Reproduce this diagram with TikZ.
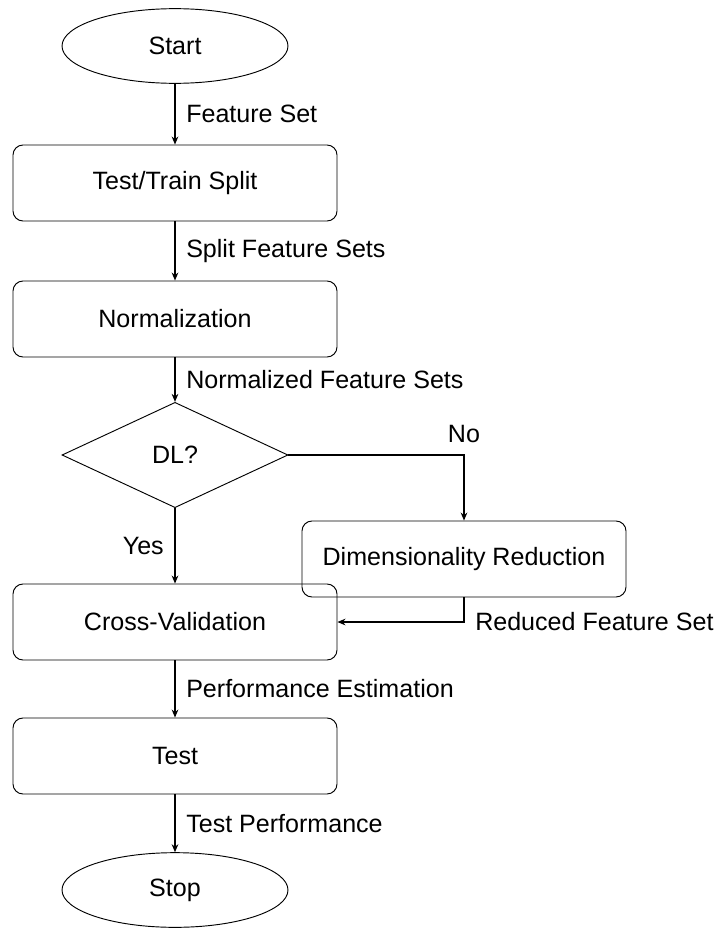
\documentclass[tikz,border=0pt]{standalone}
\usepackage{fontspec}
\setmainfont{Liberation Sans}
\usetikzlibrary{shapes.geometric,arrows.meta}
\begin{document}
\begin{tikzpicture}[x=0.75pt,y=-0.75pt,
  font=\fontsize{18.8pt}{22pt}\selectfont,
  stepbox/.style={draw,line width=0.7pt,rounded corners=7.5pt,minimum width=243pt,minimum height=57pt,inner sep=0pt},
  term/.style={draw,line width=0.7pt,ellipse,minimum width=169.5pt,minimum height=56pt,inner sep=0pt},
  decis/.style={draw,line width=0.7pt,diamond,minimum width=169.5pt,minimum height=79pt,inner sep=0pt,aspect=2.15},
  conn/.style={line width=0.9pt,-{Stealth[length=6pt,width=5pt]}},
  lbl/.style={inner sep=0pt,anchor=west}]
\useasboundingbox (0,0) rectangle (720,928);
\node[term] (start) at (175,46) {Start};
\node[stepbox] (split) at (175,183) {Test/Train Split};
\node[stepbox] (norm) at (175,319) {Normalization};
\node[decis] (dl) at (175,455) {DL?};
\node[stepbox] (dim) at (464,559) {Dimensionality Reduction};
\node[stepbox] (cv) at (175,622) {Cross-Validation};
\node[stepbox] (test) at (175,756) {Test};
\node[term] (stop) at (175,890) {Stop};

\draw[conn] (start) -- node[lbl,right=8pt] {Feature Set} (split);
\draw[conn] (split) -- node[lbl,right=8pt] {Split Feature Sets} (norm);
\draw[conn] (norm) -- node[lbl,right=8pt] {Normalized Feature Sets} (dl);
\draw[conn] (dl.south) -- node[inner sep=0pt,left=8pt] {Yes} (cv);
\draw[conn] (dl.east) -| node[pos=0.5,inner sep=0pt,above=9pt] {No} (dim.north);
\draw[conn] (dim.south) |- node[pos=0.5,lbl,right=8pt] {Reduced Feature Set} (cv.east);
\draw[conn] (cv) -- node[lbl,right=8pt] {Performance Estimation} (test);
\draw[conn] (test) -- node[lbl,right=8pt] {Test Performance} (stop);
\end{tikzpicture}
\end{document}
